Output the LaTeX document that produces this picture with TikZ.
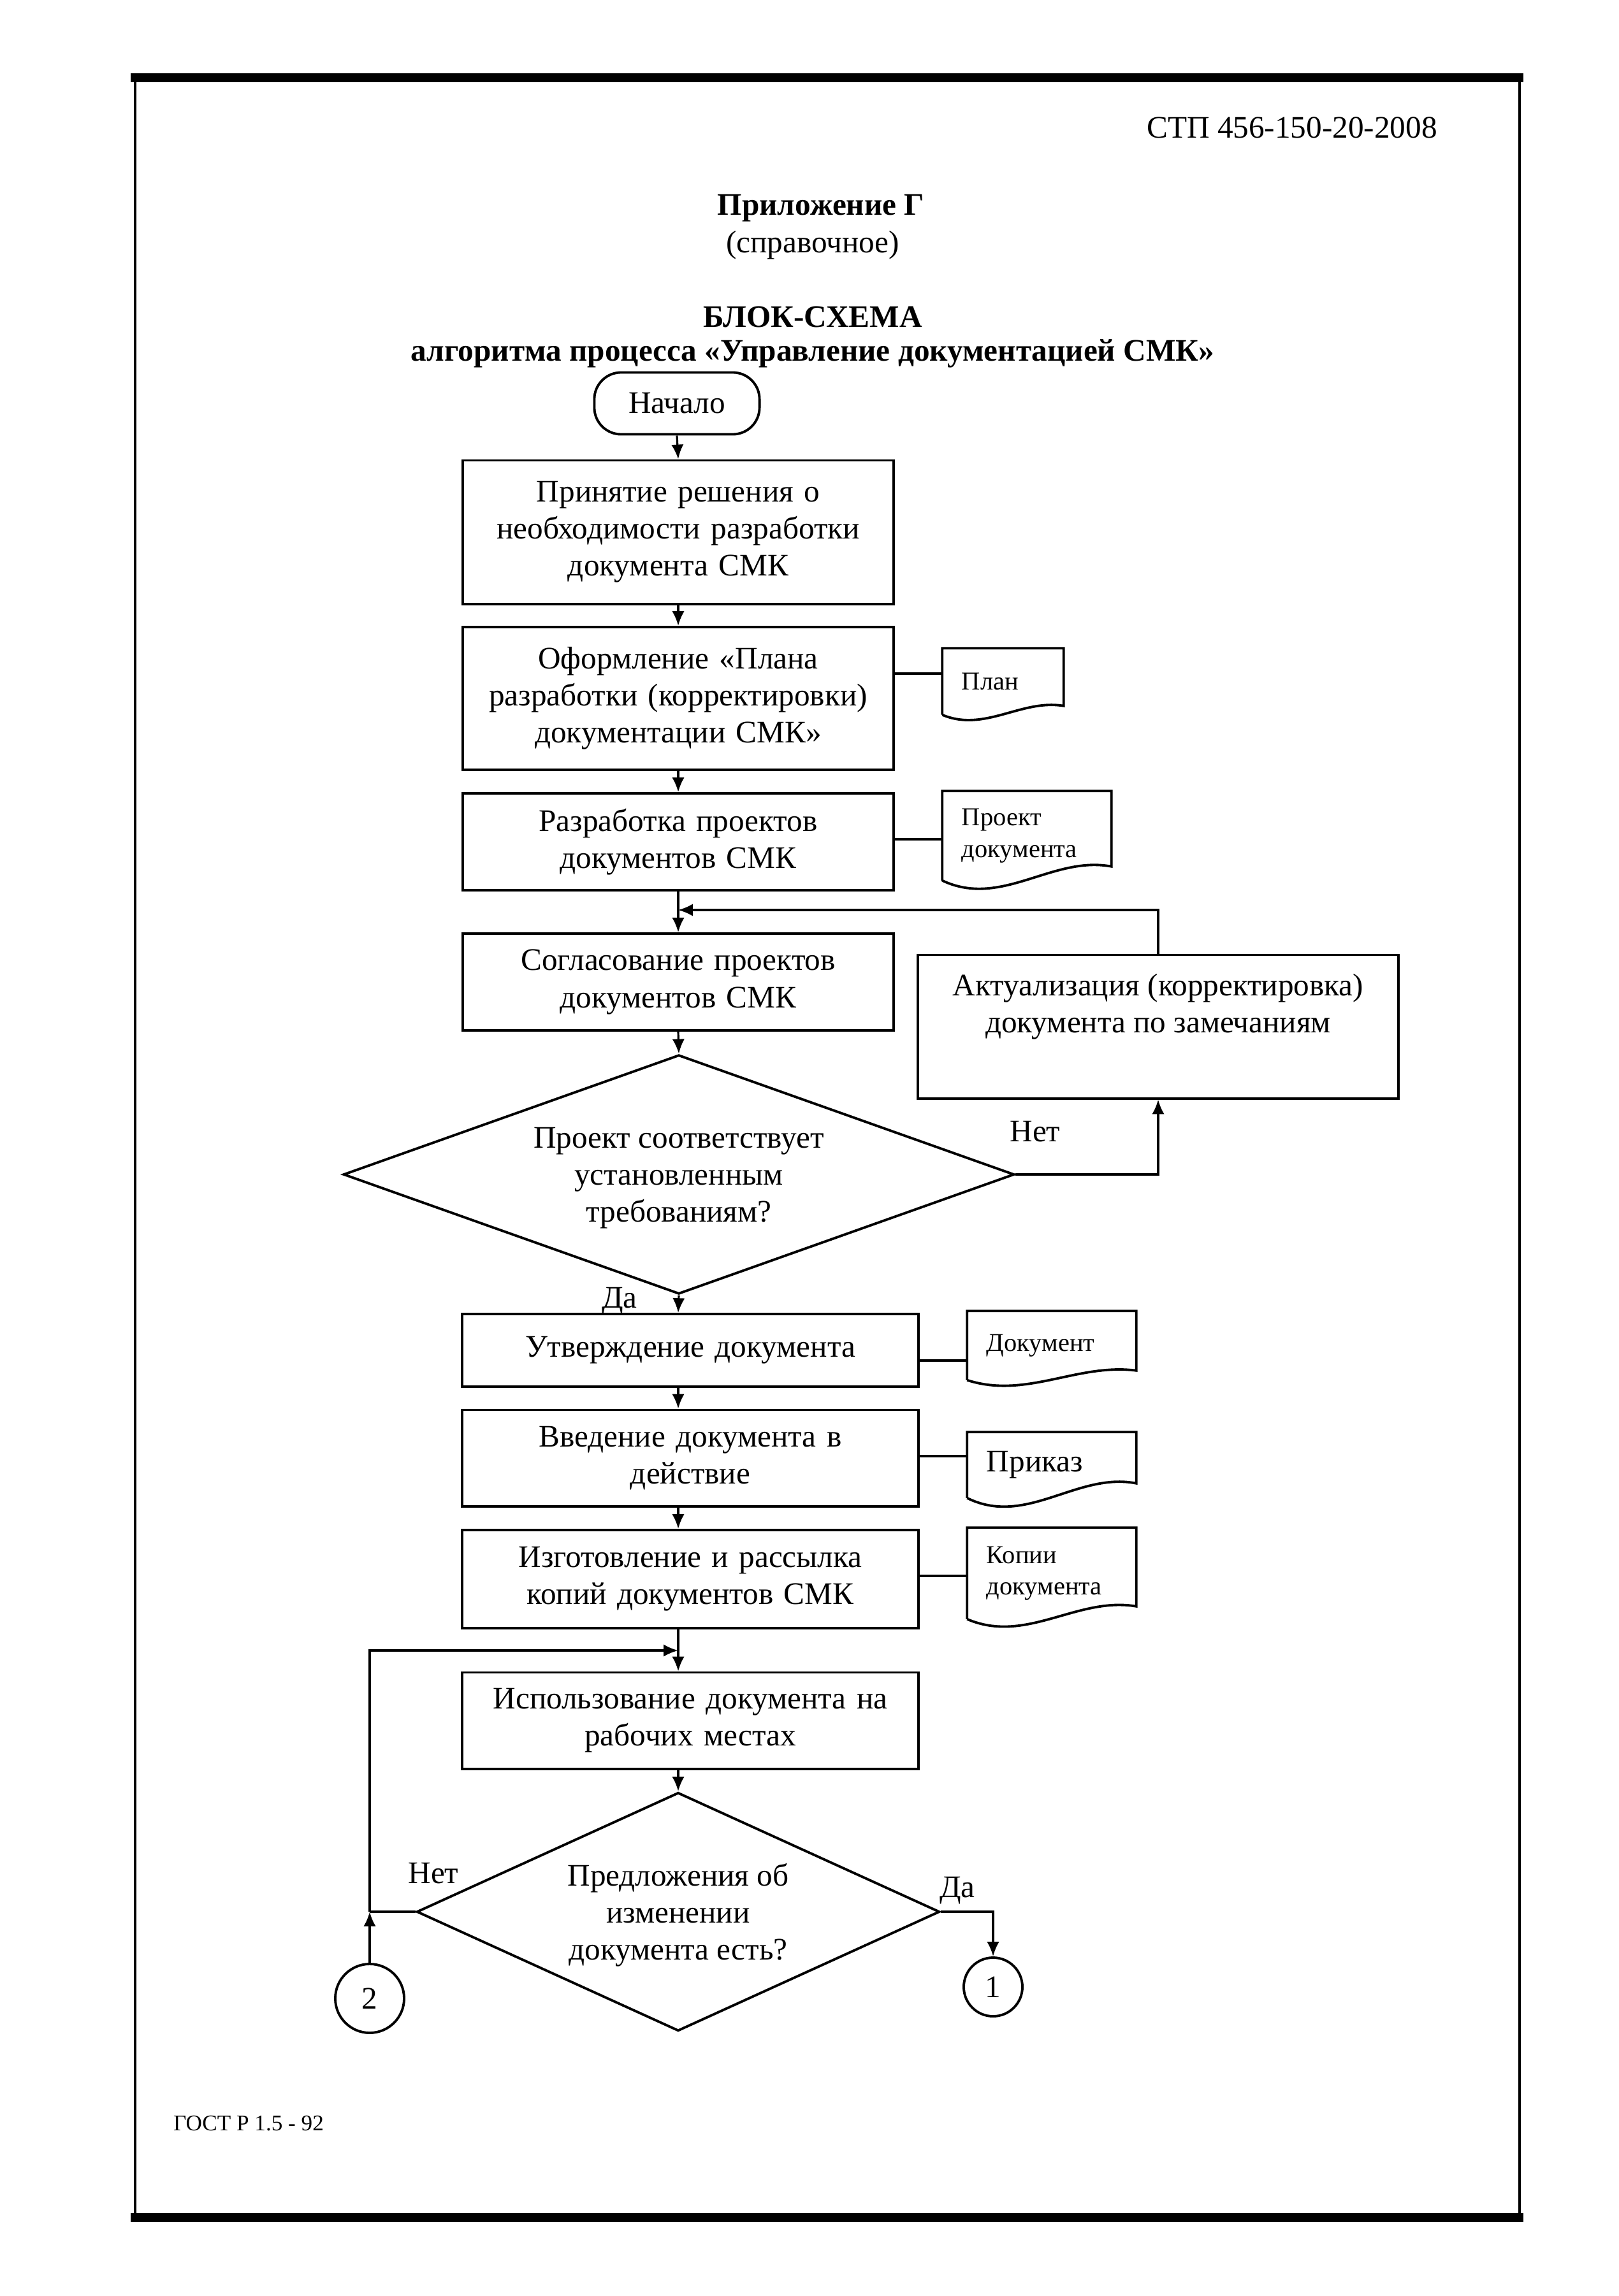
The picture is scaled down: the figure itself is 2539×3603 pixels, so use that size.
\documentclass[tikz,border=0pt]{standalone}
\usepackage{fontspec}
\setmainfont{Liberation Serif}
\usetikzlibrary{arrows.meta,shapes.geometric,calc}
\newcommand{\docshape}[2]{%
  \draw[docline] (#1.south west) -- (#1.north west) -- (#1.north east) -- ($(#1.south east)+(0,-#2)$)
    .. controls ($(#1.south west)!0.65!(#1.south east)+(0,-1.8*#2)$) and ($(#1.south west)!0.35!(#1.south east)+(0,2*#2)$) .. (#1.south west);}
\begin{document}
\begin{tikzpicture}[x=0.01cm,y=-0.01cm,
  every node/.style={font=\fontsize{14}{16.5}\selectfont},
  proc/.style={draw, line width=1.1pt, inner sep=0pt, align=center},
  startnode/.style={draw, line width=1.1pt, rounded corners=0.42cm, inner sep=0pt},
  decision/.style={draw, diamond, line width=1.1pt, inner sep=0pt},
  docbox/.style={inner xsep=0.3cm, inner ysep=0pt, align=left, font=\fontsize{11.5}{14}\selectfont},
  docline/.style={line width=1.1pt},
  conn/.style={line width=0.9pt},
  arr/.style={conn, -{Latex[length=6.5pt,width=5.5pt]}},
  connector/.style={draw, circle, line width=1.1pt, inner sep=0pt},
  lbl/.style={inner sep=0pt},
]
\useasboundingbox (0,0) rectangle (2539,3603);

% page frame
\draw[line width=1.3pt] (212,122) -- (212,3480);
\draw[line width=1.3pt] (2384,122) -- (2384,3480);
\draw[line width=4pt] (205,122) -- (2390,122);
\draw[line width=4pt] (205,3480) -- (2390,3480);

% headings
\node[lbl] (code) at (2027,200) {СТП 456-150-20-2008};
\node[lbl, font=\bfseries\fontsize{14}{16.5}\selectfont] (app) at (1288,327) {Приложение Г};
\node[lbl] (ref) at (1275,385) {(справочное)};
\node[lbl, font=\bfseries\fontsize{14}{16.5}\selectfont] (t1) at (1275,497) {БЛОК-СХЕМА};
\node[lbl, font=\bfseries\fontsize{14}{16.5}\selectfont] (t2) at (1275,555) {алгоритма процесса «Управление документацией СМК»};

% axis
\coordinate (axis) at (1064,0);

% nodes
\node[startnode, minimum width=2.59cm, minimum height=0.97cm] (start) at (1062,633) {Начало};
\node[proc, minimum width=6.76cm, minimum height=2.25cm, text width=6.6cm] (b1) at (1064,835) {Принятие решения о\\ необходимости разработки\\ документа СМК};
\node[proc, minimum width=6.76cm, minimum height=2.24cm, text width=6.6cm] (b2) at (1064,1096) {Оформление «Плана\\ разработки (корректировки)\\ документации СМК»};
\node[proc, minimum width=6.76cm, minimum height=1.52cm, text width=6.6cm] (b3) at (1064,1321) {Разработка проектов\\ документов СМК};
\node[proc, minimum width=6.76cm, minimum height=1.52cm, text width=6.6cm] (b4) at (1064,1541) {Согласование проектов\\ документов СМК};
\node[proc, minimum width=7.53cm, minimum height=2.25cm] (akt) at (1817,1611) {};
\node[lbl, align=center] (akttext) at (1817,1580) {Актуализация (корректировка)\\ документа по замечаниям};
\node[decision, minimum width=10.52cm, minimum height=3.75cm] (d1) at (1065,1843) {};
\node[lbl, align=center] (d1text) at (1065,1849) {Проект соответствует\\ установленным\\ требованиям?};
\node[proc, minimum width=7.15cm, minimum height=1.14cm, text width=7.0cm] (b5) at (1083,2119) {Утверждение документа};
\node[proc, minimum width=7.15cm, minimum height=1.51cm, text width=7.0cm] (b6) at (1083,2288) {Введение документа в\\ действие};
\node[proc, minimum width=7.15cm, minimum height=1.54cm, text width=7.0cm] (b7) at (1083,2478) {Изготовление и рассылка\\ копий документов СМК};
\node[proc, minimum width=7.15cm, minimum height=1.51cm, text width=7.0cm] (b8) at (1083,2700) {Использование документа на\\ рабочих местах};
\node[decision, minimum width=8.2cm, minimum height=3.74cm] (d2) at (1064,3000) {};
\node[lbl, align=center] (d2text) at (1064,3005) {Предложения об\\ изменении\\ документа есть?};
\node[connector, minimum size=1.08cm] (c2) at (580,3136) {2};
\node[connector, minimum size=0.92cm] (c1) at (1558,3118) {1};

% documents
\node[docbox, minimum width=1.89cm, minimum height=1.03cm, text width=1.29cm] (plan) at (1573.5,1069.5) {План};
\node[docbox, minimum width=2.64cm, minimum height=1.39cm, text width=2.04cm] (proj) at (1611,1311.5) {Проект\\ документа};
\node[docbox, minimum width=2.64cm, minimum height=1.07cm, text width=2.04cm] (doc) at (1650,2111.5) {Документ};
\node[docbox, minimum width=2.64cm, minimum height=1.02cm, text width=2.04cm, font=\fontsize{14}{16.5}\selectfont] (prik) at (1650,2299) {Приказ};
\node[docbox, minimum width=2.64cm, minimum height=1.42cm, text width=2.04cm] (kop) at (1650,2469) {Копии\\ документа};
\docshape{plan}{14}
\docshape{proj}{22}
\docshape{doc}{15}
\docshape{prik}{23}
\docshape{kop}{20}

% document links
\draw[conn] (b2.east |- 0,1057) -- (plan.west |- 0,1057);
\draw[conn] (b3.east |- 0,1317) -- (proj.west |- 0,1317);
\draw[conn] (b5.east |- 0,2135) -- (doc.west |- 0,2135);
\draw[conn] (b6.east |- 0,2285) -- (prik.west |- 0,2285);
\draw[conn] (b7.east |- 0,2473) -- (kop.west |- 0,2473);

% main flow
\draw[arr] (start.south) -- (b1.north);
\draw[arr] (b1.south) -- (b2.north);
\draw[arr] (b2.south) -- (b3.north);
\draw[arr] (b3.south) -- (b4.north);
\draw[arr] (b4.south) -- (d1.north);
\draw[arr] (d1.south) -- (b5.north -| axis);
\draw[arr] (b5.south -| axis) -- (b6.north -| axis);
\draw[arr] (b6.south -| axis) -- (b7.north -| axis);
\draw[arr] (b7.south -| axis) -- (b8.north -| axis);
\draw[arr] (b8.south -| axis) -- (d2.north);

% correction loop
\coordinate (loop1) at (1064,1428);
\draw[arr] (akt.north) |- (loop1);
\draw[arr] (d1.east) -| (akt.south);
\node[lbl] (no1) at (1624,1776) {Нет};
\node[lbl] (yes1) at (972,2042) {Да};

% bottom decision
\coordinate (loop2) at (1064,2590);
\coordinate (junc) at (c2.north |- d2.west);
\draw[arr] (c2.north) -- (junc);
\draw[conn] (d2.west) -- (junc);
\draw[arr] (junc) |- (loop2);
\draw[arr] (d2.east) -| (c1.north);
\node[lbl] (no2) at (680,2940) {Нет};
\node[lbl] (yes2) at (1502,2967) {Да};

% footer
\node[lbl, font=\fontsize{10}{12}\selectfont] (gost) at (390,3332) {ГОСТ Р 1.5 - 92};
\end{tikzpicture}
\end{document}
